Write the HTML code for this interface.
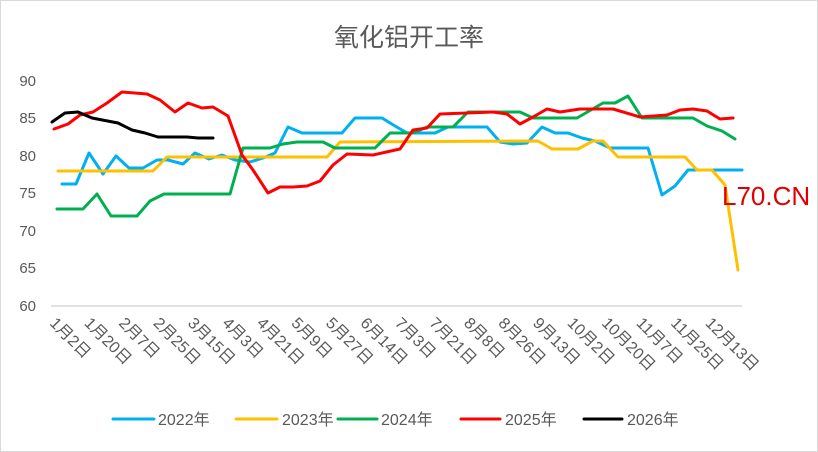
<!DOCTYPE html>
<html><head><meta charset="utf-8"><style>
html,body{margin:0;padding:0;background:#fff;}
svg{display:block;font-family:"Liberation Sans","Noto Sans CJK SC",sans-serif;}
</style></head><body>
<svg width="818" height="452" viewBox="0 0 818 452">
<rect x="0.5" y="0.5" width="817" height="451" fill="#fff" stroke="#d9d9d9"/>
<text x="409" y="46" font-size="25" fill="#595959" text-anchor="middle">氧化铝开工率</text>
<g font-size="15" fill="#595959" text-anchor="end">
<text x="36" y="86">90</text><text x="36" y="123">85</text><text x="36" y="161">80</text>
<text x="36" y="198">75</text><text x="36" y="236">70</text><text x="36" y="273">65</text><text x="36" y="311">60</text>
</g>
<line x1="51" y1="306" x2="742" y2="306" stroke="#d9d9d9" stroke-width="1.5"/>
<g font-size="16" fill="#595959">
<text transform="translate(49,324) rotate(45)">1月2日</text>
<text transform="translate(83.5,324) rotate(45)">1月20日</text>
<text transform="translate(118,324) rotate(45)">2月7日</text>
<text transform="translate(152.5,324) rotate(45)">2月25日</text>
<text transform="translate(187,324) rotate(45)">3月15日</text>
<text transform="translate(221.5,324) rotate(45)">4月3日</text>
<text transform="translate(256,324) rotate(45)">4月21日</text>
<text transform="translate(290.5,324) rotate(45)">5月9日</text>
<text transform="translate(325,324) rotate(45)">5月27日</text>
<text transform="translate(359.5,324) rotate(45)">6月14日</text>
<text transform="translate(394,324) rotate(45)">7月3日</text>
<text transform="translate(428.5,324) rotate(45)">7月21日</text>
<text transform="translate(463,324) rotate(45)">8月8日</text>
<text transform="translate(497.5,324) rotate(45)">8月26日</text>
<text transform="translate(532,324) rotate(45)">9月13日</text>
<text transform="translate(566.5,324) rotate(45)">10月2日</text>
<text transform="translate(601,324) rotate(45)">10月20日</text>
<text transform="translate(635.5,324) rotate(45)">11月7日</text>
<text transform="translate(670,324) rotate(45)">11月25日</text>
<text transform="translate(704.5,324) rotate(45)">12月13日</text>
</g>
<g fill="none" stroke-width="3" stroke-linejoin="round" stroke-linecap="round">
<polyline stroke="#00b0f0" points="62,184 76,184 89,153 103,174 116,156 129,168 143,168 157,160 168,160 183,164 195,153 209,159 222,155 235,160 250,162 263,158 275,153 288,127 302,133 342,133 355,118 382,118 395,126 407,133 413,133 435,133 448,127 487,127 500,142 513,144 527,143 542,127 555,133 568,133 582,138 595,141 610,148 648,148 662,195 675,186 688,170 742,170"/>
<polyline stroke="#ffc000" points="58,171 153,171 167,157 327,157 340,142 538,141 552,149 578,149 593,141 603,141 618,157 685,157 697,170 712,170 725,185 738,270"/>
<polyline stroke="#00b050" points="57,209 83,209 97,194 111,216 137,216 150,201 164,194 230,194 243,148 270,148 283,144 297,142 323,142 335,148 375,148 390,133 413,133 427,127 453,127 468,112 520,112 533,118 577,118 603,103 615,103 628,96 642,118 693,118 707,126 722,131 735,139"/>
<polyline stroke="#ff0000" points="54,129 68,124 80,115 93,112 107,103 122,92 147,94 160,100 175,112 188,103 202,108 213,107 228,116 242,155 253,170 268,193 280,187 293,187 307,186 320,181 333,165 347,154 373,155 400,149 413,130 427,128 440,114 467,113 493,112 507,114 520,124 533,117 547,109 560,112 580,109 613,109 640,117 667,115 680,110 693,109 707,111 720,119 733,118"/>
<polyline stroke="#000000" points="52,122 65,113 78,112 92,118 118,123 132,130 145,133 158,137 187,137 198,138 213,138"/>
</g>
<text x="722" y="205" font-size="26" fill="#e00000">L70.CN</text>
<g font-size="16" fill="#595959" stroke-width="3" stroke-linecap="round">
<line x1="113" y1="419" x2="154" y2="419" stroke="#00b0f0"/><text x="158" y="425">2022年</text>
<line x1="236" y1="419" x2="277" y2="419" stroke="#ffc000"/><text x="282" y="425">2023年</text>
<line x1="338" y1="419" x2="377" y2="419" stroke="#00b050"/><text x="381" y="425">2024年</text>
<line x1="461" y1="419" x2="500" y2="419" stroke="#ff0000"/><text x="505" y="425">2025年</text>
<line x1="584" y1="419" x2="622" y2="419" stroke="#000000"/><text x="627" y="425">2026年</text>
</g>
</svg>
</body></html>
